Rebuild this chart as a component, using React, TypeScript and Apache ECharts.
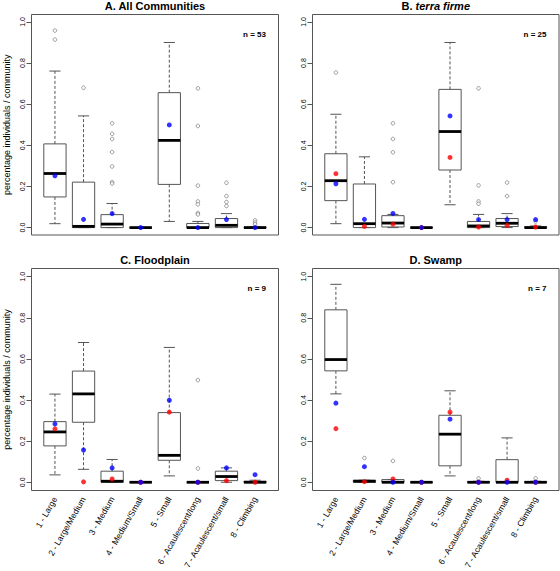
import React, { useEffect, useRef } from "react";
import * as echarts from "echarts";

// ---------- data ----------
const categories = [
  "1 - Large",
  "2 - Large/Medium",
  "3 - Medium",
  "4 - Medium/Small",
  "5 - Small",
  "6 - Acaulescent/long",
  "7 - Acaulescent/small",
  "8 - Climbing",
];

const panelTitles = ["A. All Communities", "B. terra firme", "C. Floodplain", "D. Swamp"];
const nLabels = ["n = 53", "n = 25", "n = 9", "n = 7"];
const yTickLabels = ["0.0", "0.2", "0.4", "0.6", "0.8", "1.0"];
const yAxisTitle = "percentage individuals / community";

// box stats per category: [lower whisker, Q1, median, Q3, upper whisker]
const boxA = [
  [0.019, 0.149, 0.263, 0.407, 0.761],
  [0, 0, 0.006, 0.221, 0.543],
  [0, 0, 0.017, 0.063, 0.117],
  [0, 0, 0, 0, 0],
  [0.03, 0.21, 0.424, 0.656, 0.9],
  [0, 0, 0, 0.02, 0.03],
  [0, 0, 0.011, 0.044, 0.068],
  [0, 0, 0, 0.002, 0.004],
];
const boxB = [
  [0.019, 0.131, 0.228, 0.359, 0.551],
  [0, 0, 0.019, 0.212, 0.344],
  [0, 0.003, 0.022, 0.058, 0.064],
  [0, 0, 0, 0, 0],
  [0.111, 0.28, 0.467, 0.672, 0.9],
  [0, 0, 0.008, 0.03, 0.064],
  [0, 0.005, 0.021, 0.044, 0.068],
  [0, 0, 0, 0.004, 0.008],
];
const boxC = [
  [0.036, 0.177, 0.245, 0.295, 0.429],
  [0.063, 0.292, 0.43, 0.541, 0.68],
  [0, 0, 0.005, 0.054, 0.111],
  [0, 0, 0, 0, 0],
  [0.031, 0.107, 0.131, 0.339, 0.656],
  [0, 0, 0, 0, 0],
  [0, 0.008, 0.028, 0.054, 0.07],
  [0, 0, 0, 0.005, 0.01],
];
const boxD = [
  [0.43, 0.542, 0.597, 0.839, 0.963],
  [0, 0, 0.005, 0.01, 0.01],
  [0, 0, 0, 0.013, 0.013],
  [0, 0, 0, 0, 0],
  [0.031, 0.08, 0.234, 0.326, 0.445],
  [0, 0, 0, 0.003, 0.005],
  [0, 0, 0, 0.11, 0.216],
  [0, 0, 0, 0.003, 0.005],
];

// outliers: [category number, value]
const outliersA = [
  [1, 0.914], [1, 0.958],
  [2, 0.68],
  [3, 0.507], [3, 0.456], [3, 0.431], [3, 0.367], [3, 0.297], [3, 0.221], [3, 0.214],
  [6, 0.677], [6, 0.494], [6, 0.204], [6, 0.127], [6, 0.113], [6, 0.071], [6, 0.064],
  [7, 0.218], [7, 0.153], [7, 0.124], [7, 0.105],
  [8, 0.035], [8, 0.024], [8, 0.016],
];
const outliersB = [
  [1, 0.754],
  [3, 0.507], [3, 0.431], [3, 0.366], [3, 0.221],
  [6, 0.677], [6, 0.205], [6, 0.127], [6, 0.116],
  [7, 0.219], [7, 0.153],
  [8, 0.03],
];
const outliersC = [
  [6, 0.497], [6, 0.067],
];
const outliersD = [
  [2, 0.118], [3, 0.104], [6, 0.019], [8, 0.019],
];

// blue and red points per category
const blueA = [0.252, 0.04, 0.068, 0, 0.499, 0, 0.039, 0];
const redA: number[] = [];
const blueB = [0.213, 0.04, 0.069, 0, 0.543, 0.039, 0.039, 0.039];
const redB = [0.262, 0.006, 0.017, 0, 0.341, 0.003, 0.011, 0.003];
const blueC = [0.284, 0.157, 0.07, 0, 0.399, 0, 0.07, 0.037];
const redC = [0.26, 0.002, 0.016, 0, 0.341, 0, 0.008, 0];
const blueD = [0.385, 0.076, 0, 0, 0.307, 0, 0, 0];
const redD = [0.261, 0.003, 0.016, 0, 0.341, 0, 0.01, 0];

// ---------- layout ----------
const FONT = "Liberation Sans, Arial, Helvetica, sans-serif";
const X_MIN = 0.18;
const X_MAX = 8.82;

const layouts = [
  { left: 31.5, top: 14.5, width: 247, height: 220.5, yMin: -0.036, yMax: 1.036, yTitle: true, xLabels: false },
  { left: 312.5, top: 14.5, width: 246.5, height: 220.5, yMin: -0.036, yMax: 1.036, yTitle: false, xLabels: false },
  { left: 31.5, top: 268.5, width: 247, height: 222, yMin: -0.04, yMax: 1.04, yTitle: true, xLabels: true },
  { left: 312.5, top: 268.5, width: 246.5, height: 222, yMin: -0.04, yMax: 1.04, yTitle: false, xLabels: true },
];

const panelData = [
  { box: boxA, out: outliersA, blue: blueA, red: redA },
  { box: boxB, out: outliersB, blue: blueB, red: redB },
  { box: boxC, out: outliersC, blue: blueC, red: redC },
  { box: boxD, out: outliersD, blue: blueD, red: redD },
];

function buildOption() {
  const grid: any[] = [];
  const xAxis: any[] = [];
  const yAxis: any[] = [];
  const series: any[] = [];
  const graphic: any[] = [];

  layouts.forEach((L, p) => {
    const D = panelData[p];
    // data grid
    const gi = grid.length;
    grid.push({
      left: L.left,
      top: L.top,
      width: L.width,
      height: L.height,
      show: true,
      borderColor: "#555",
      borderWidth: 1,
      backgroundColor: "transparent",
      containLabel: false,
      outerBoundsMode: "none",
    });
    const xi = xAxis.length;
    xAxis.push({ type: "value", gridIndex: gi, min: X_MIN, max: X_MAX, show: false });
    const yi = yAxis.length;
    yAxis.push({ type: "value", gridIndex: gi, min: L.yMin, max: L.yMax, show: false });

    // y label grid spanning 0..1
    const pxPerUnit = L.height / (L.yMax - L.yMin);
    const y1 = L.top + (L.yMax - 1) * pxPerUnit;
    const lg = grid.length;
    grid.push({
      left: L.left,
      top: y1,
      width: L.width,
      height: pxPerUnit,
      show: false,
      containLabel: false,
      outerBoundsMode: "none",
    });
    xAxis.push({ type: "value", gridIndex: lg, min: 0, max: 1, show: false });
    yAxis.push({
      type: "value",
      gridIndex: lg,
      min: 0,
      max: 1,
      interval: 0.2,
      axisLine: { show: false },
      splitLine: { show: false },
      axisTick: { show: true, length: 5, lineStyle: { color: "#555", width: 1 } },
      axisLabel: {
        rotate: 90,
        margin: 6,
        fontSize: 7,
        fontFamily: FONT,
        color: "#000",
        formatter: (v: number) => yTickLabels[Math.round(v * 5)] ?? "",
      },
      name: L.yTitle ? yAxisTitle : "",
      nameLocation: "middle",
      nameRotate: 90,
      nameGap: 20,
      nameTextStyle: { fontSize: 9, fontFamily: FONT, color: "#000" },
    });

    // x label grid (categories)
    if (L.xLabels) {
      const u = L.width / (X_MAX - X_MIN);
      const xg = grid.length;
      grid.push({
        left: L.left + (0.5 - X_MIN) * u,
        width: 8 * u,
        top: L.top + L.height - 1,
        height: 1,
        show: false,
        containLabel: false,
        outerBoundsMode: "none",
      });
      xAxis.push({
        type: "category",
        gridIndex: xg,
        data: categories,
        axisLine: { show: false },
        axisTick: { show: false },
        axisLabel: {
          interval: 0,
          rotate: 60,
          margin: 7,
          fontSize: 8.5,
          fontFamily: FONT,
          color: "#000",
          hideOverlap: false,
        },
      });
      yAxis.push({ type: "value", gridIndex: xg, show: false });
    }

    // boxes
    series.push({
      type: "custom",
      xAxisIndex: xi,
      yAxisIndex: yi,
      data: D.box.map((b, i) => [i + 1, ...b]),
      encode: { x: 0, y: [1, 2, 3, 4, 5] },
      clip: false,
      renderItem: (params: any, api: any) => {
        const x = api.value(0);
        const lo = api.value(1);
        const q1 = api.value(2);
        const med = api.value(3);
        const q3 = api.value(4);
        const hi = api.value(5);
        const hw = api.size([0.39, 0])[0];
        const cx = api.coord([x, 0])[0];
        const yy = (v: number) => api.coord([x, v])[1];
        const gray = "#555";
        const children: any[] = [
          {
            type: "line",
            shape: { x1: cx, y1: yy(q3), x2: cx, y2: yy(hi) },
            style: { stroke: gray, lineWidth: 1, lineDash: [3, 2] },
          },
          {
            type: "line",
            shape: { x1: cx, y1: yy(q1), x2: cx, y2: yy(lo) },
            style: { stroke: gray, lineWidth: 1, lineDash: [3, 2] },
          },
          {
            type: "line",
            shape: { x1: cx - hw / 2, y1: yy(hi), x2: cx + hw / 2, y2: yy(hi) },
            style: { stroke: gray, lineWidth: 1 },
          },
          {
            type: "line",
            shape: { x1: cx - hw / 2, y1: yy(lo), x2: cx + hw / 2, y2: yy(lo) },
            style: { stroke: gray, lineWidth: 1 },
          },
          {
            type: "rect",
            shape: { x: cx - hw, y: yy(q3), width: 2 * hw, height: yy(q1) - yy(q3) },
            style: { fill: "transparent", stroke: gray, lineWidth: 1 },
          },
          {
            type: "line",
            shape: { x1: cx - hw, y1: yy(med), x2: cx + hw, y2: yy(med) },
            style: { stroke: "#000", lineWidth: 2.8 },
          },
        ];
        return { type: "group", children };
      },
    });

    // outliers
    series.push({
      type: "scatter",
      xAxisIndex: xi,
      yAxisIndex: yi,
      data: D.out,
      symbol: "circle",
      symbolSize: 3.6,
      itemStyle: { color: "#fff", borderColor: "#555", borderWidth: 0.7 },
    });
    // red points
    if (D.red.length) {
      series.push({
        type: "scatter",
        xAxisIndex: xi,
        yAxisIndex: yi,
        data: D.red.map((v, i) => [i + 1, v]),
        symbol: "circle",
        symbolSize: 5,
        itemStyle: { color: "#ff0000" },
      });
    }
    // blue points
    series.push({
      type: "scatter",
      xAxisIndex: xi,
      yAxisIndex: yi,
      data: D.blue.map((v, i) => [i + 1, v]),
      symbol: "circle",
      symbolSize: 5,
      itemStyle: { color: "#0000ff" },
    });

    // titles and n labels
    const cxTitle = L.left + L.width / 2;
    const titleY = L.top - 9;
    if (p === 1) {
      const parts = panelTitles[1].split(". ");
      graphic.push({
        type: "text",
        x: cxTitle,
        y: titleY,
        style: {
          text: `{a|${parts[0]}. }{b|${parts[1]}}`,
          align: "center",
          verticalAlign: "middle",
          rich: {
            a: { fontSize: 11, fontWeight: "bold", fontFamily: FONT, fill: "#000" },
            b: { fontSize: 11, fontWeight: "bold", fontStyle: "italic", fontFamily: FONT, fill: "#000" },
          },
        },
      });
    } else {
      graphic.push({
        type: "text",
        x: cxTitle,
        y: titleY,
        style: {
          text: panelTitles[p],
          align: "center",
          verticalAlign: "middle",
          font: `bold 11px ${FONT}`,
          fill: "#000",
        },
      });
    }
    graphic.push({
      type: "text",
      x: L.left + L.width - 12.5,
      y: L.top + 20,
      style: {
        text: nLabels[p],
        align: "right",
        verticalAlign: "middle",
        font: `bold 8px ${FONT}`,
        fill: "#000",
      },
    });
  });

  return {
    animation: false,
    backgroundColor: "#fff",
    grid,
    xAxis,
    yAxis,
    series,
    graphic,
  };
}

export default function App() {
  const ref = useRef<HTMLDivElement>(null);
  useEffect(() => {
    if (!ref.current) return;
    const chart = echarts.init(ref.current, undefined, { renderer: "svg" });
    chart.setOption(buildOption() as any);
    return () => chart.dispose();
  }, []);
  return (
    <div
      ref={ref}
      style={{ position: "fixed", left: 0, top: 0, width: 560, height: 571 }}
    />
  );
}
